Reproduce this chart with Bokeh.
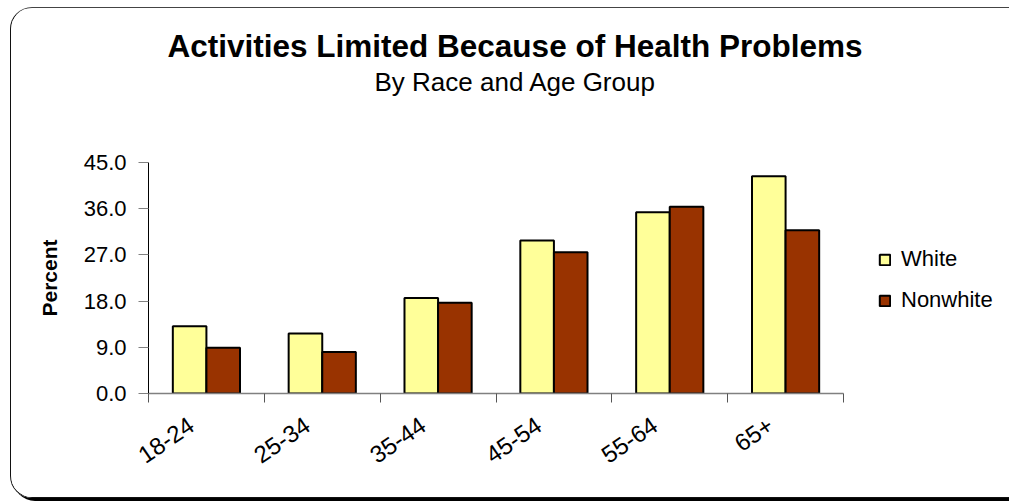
import numpy as np
from bokeh.plotting import figure
from bokeh.models import (Range1d, FixedTicker, NumeralTickFormatter, Legend,
                          LegendItem, Title)
from bokeh.embed import file_html
from bokeh.resources import INLINE

categories = ["18-24", "25-34", "35-44", "45-54", "55-64", "65+"]
white = [13.1, 11.7, 18.6, 29.8, 35.3, 42.3]
nonwhite = [8.9, 8.1, 17.7, 27.5, 36.4, 31.8]
y_ticks = [0, 9, 18, 27, 36, 45]

title_text = "Activities Limited Because of Health Problems"
subtitle_text = "By Race and Age Group"

FONT = "Liberation Sans"

p = figure(frame_width=695, frame_height=231, output_backend="svg",
           toolbar_location=None,
           x_range=Range1d(0, len(categories)), y_range=Range1d(0, 45),
           min_border_left=137, min_border_right=163, min_border_top=154,
           min_border_bottom=104, background_fill_color="white",
           border_fill_color="white")
p.outline_line_color = None
p.grid.visible = False
p.styles = {"border": "1px solid #111", "border-top-color": "#444",
            "border-radius": "22px", "box-shadow": "3px 3px 0 #000",
            "overflow": "hidden", "margin-left": "10px", "margin-top": "7px"}

idx = np.arange(len(categories)) + 0.5
w = 0.29
r1 = p.vbar(x=idx - w / 2, top=white, width=w, bottom=0,
            fill_color="#FFFF99", line_color="black", line_width=2)
r2 = p.vbar(x=idx + w / 2, top=nonwhite, width=w, bottom=0,
            fill_color="#993300", line_color="black", line_width=2)

# x axis: labels near category centres, tick marks between categories
label_pos = [round(float(v) - 0.13, 2) for v in idx]
xa = p.xaxis[0]
xa.ticker = FixedTicker(ticks=label_pos,
                        minor_ticks=[float(v) for v in range(len(categories) + 1)])
xa.major_label_overrides = {v: c for v, c in zip(label_pos, categories)}
xa.major_tick_out = 0
xa.major_tick_in = 0
xa.minor_tick_out = 9
xa.minor_tick_in = 0
xa.minor_tick_line_color = "#555555"
xa.axis_line_color = "#808080"
xa.axis_line_width = 1.5
xa.major_label_orientation = 0.6
xa.major_label_standoff = 20
xa.major_label_text_font = FONT
xa.major_label_text_font_size = "24px"
xa.major_label_text_color = "black"

# y axis
ya = p.yaxis[0]
ya.ticker = FixedTicker(ticks=y_ticks)
ya.formatter = NumeralTickFormatter(format="0.0")
ya.minor_tick_line_color = None
ya.major_tick_out = 10
ya.major_tick_in = 0
ya.major_tick_line_color = "#808080"
ya.axis_line_color = "black"
ya.major_label_standoff = 12
ya.major_label_text_font = FONT
ya.major_label_text_font_size = "22px"
ya.major_label_text_color = "black"
ya.axis_label = "Percent"
ya.axis_label_text_font = FONT
ya.axis_label_text_font_size = "21px"
ya.axis_label_text_font_style = "bold"
ya.axis_label_text_color = "black"
ya.axis_label_standoff = 20

# titles: main title outermost, then subtitle, spacer next to the frame
p.title.text = title_text
p.title.text_font = FONT
p.title.text_font_size = "31.5px"
p.title.text_font_style = "bold"
p.title.text_color = "black"
p.title.align = "left"
p.title.offset = 19
p.title.standoff = 2

spacer = Title(text=" ", text_font_size="1px", standoff=63)
p.add_layout(spacer, "above")
subtitle = Title(text=subtitle_text, text_font=FONT, text_font_size="26px",
                 text_font_style="normal", text_color="black", align="left",
                 offset=226, standoff=0)
p.add_layout(subtitle, "above")

legend = Legend(items=[LegendItem(label="White", renderers=[r1]),
                       LegendItem(label="Nonwhite", renderers=[r2])],
                location=(35, 80), orientation="vertical")
legend.margin = 0
legend.padding = 0
legend.glyph_width = 13
legend.glyph_height = 13
legend.label_standoff = 10
legend.spacing = 15
legend.label_text_font = FONT
legend.label_text_font_size = "22px"
legend.label_text_color = "black"
legend.border_line_color = None
legend.background_fill_alpha = 0
p.add_layout(legend, "right")

open("out.html", "w").write(file_html(p, INLINE))
